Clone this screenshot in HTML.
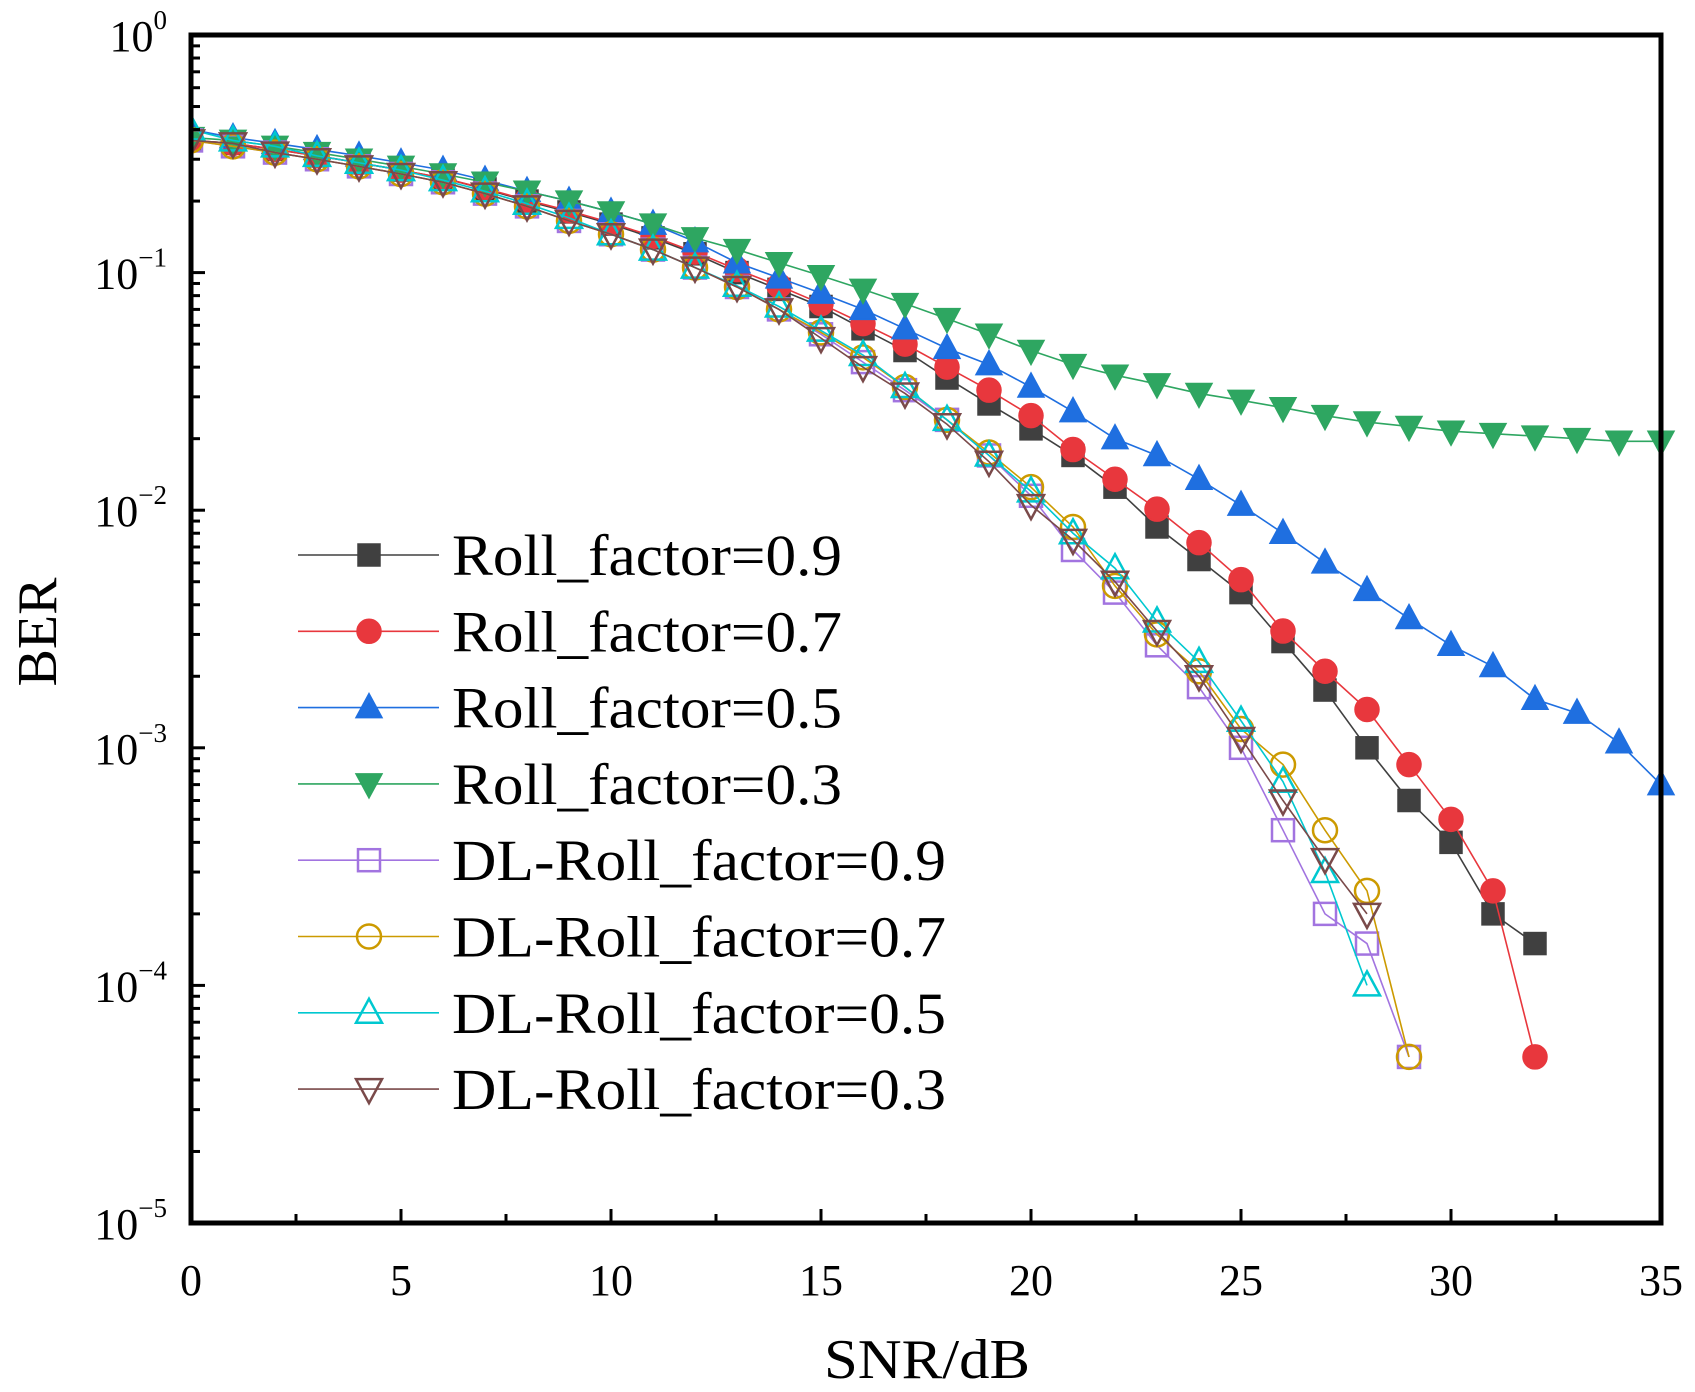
<!DOCTYPE html>
<html><head><meta charset="utf-8"><style>
html,body{margin:0;padding:0;background:#fff}
svg{display:block;font-family:"Liberation Serif",serif}
</style></head><body>
<svg id="chart" width="1695" height="1392" viewBox="0 0 1695 1392" xmlns="http://www.w3.org/2000/svg"></svg>
<script>
const seriesNames=["Roll_factor=0.9","Roll_factor=0.7","Roll_factor=0.5","Roll_factor=0.3","DL-Roll_factor=0.9","DL-Roll_factor=0.7","DL-Roll_factor=0.5","DL-Roll_factor=0.3"];
const roll09=[0.36,0.35,0.33,0.31,0.29,0.27,0.25,0.225,0.2,0.18,0.16,0.14,0.12,0.1,0.085,0.072,0.058,0.047,0.036,0.028,0.022,0.017,0.0125,0.0085,0.0062,0.0045,0.0028,0.00175,0.001,0.0006,0.0004,0.0002,0.00015];
const roll07=[0.36,0.35,0.33,0.31,0.29,0.27,0.25,0.226,0.202,0.182,0.162,0.142,0.122,0.103,0.088,0.074,0.061,0.05,0.04,0.032,0.025,0.018,0.0135,0.0101,0.0073,0.0051,0.0031,0.0021,0.00145,0.00085,0.0005,0.00025,0.00005];
const roll05=[0.4,0.37,0.35,0.33,0.31,0.29,0.27,0.245,0.22,0.2,0.18,0.16,0.135,0.11,0.095,0.082,0.07,0.058,0.048,0.041,0.033,0.026,0.02,0.017,0.0135,0.0105,0.008,0.006,0.0046,0.0035,0.0027,0.0022,0.0016,0.0014,0.00105,0.0007];
const roll03=[0.37,0.36,0.34,0.32,0.3,0.28,0.26,0.24,0.22,0.2,0.18,0.16,0.14,0.125,0.11,0.097,0.085,0.074,0.064,0.055,0.047,0.041,0.037,0.034,0.031,0.029,0.027,0.025,0.0235,0.0225,0.0215,0.021,0.0205,0.02,0.0195,0.0195];
const dl09=[0.36,0.34,0.32,0.3,0.28,0.26,0.24,0.215,0.19,0.165,0.145,0.125,0.105,0.087,0.07,0.055,0.042,0.032,0.024,0.017,0.0115,0.0068,0.0045,0.0027,0.0018,0.001,0.00045,0.0002,0.00015,0.00005];
const dl07=[0.36,0.34,0.32,0.3,0.28,0.26,0.24,0.215,0.19,0.165,0.145,0.125,0.105,0.087,0.07,0.056,0.044,0.033,0.024,0.0175,0.0125,0.0085,0.0048,0.003,0.0021,0.0012,0.00085,0.00045,0.00025,0.00005];
const dl05=[0.4,0.36,0.34,0.31,0.29,0.27,0.245,0.22,0.195,0.17,0.145,0.125,0.105,0.088,0.072,0.057,0.045,0.033,0.024,0.017,0.012,0.008,0.0057,0.0034,0.0023,0.0013,0.00072,0.0003,0.0001];
const dl03=[0.36,0.35,0.32,0.3,0.28,0.26,0.24,0.215,0.19,0.165,0.145,0.125,0.105,0.087,0.07,0.053,0.04,0.031,0.023,0.016,0.0105,0.0075,0.005,0.0031,0.002,0.0011,0.0006,0.00034,0.0002];
const xTicks=[0,5,10,15,20,25,30,35];
const yExps=[0,-1,-2,-3,-4,-5];

const NS="http://www.w3.org/2000/svg";
const svg=document.getElementById('chart');
const L=191,R=1661,T=35,B=1223;
const xs=v=>L+(v-0)/35*(R-L);
const ys=v=>T+(-Math.log10(v))/5*(B-T);
function mk(tag,attrs,parent){const e=document.createElementNS(NS,tag);for(const k in attrs)e.setAttribute(k,attrs[k]);(parent||svg).appendChild(e);return e;}

const colors=["#404040","#e8373d","#1f6fe0","#2ea661","#a274e0","#cc9a00","#00c8d0","#7a4a4a"];
const shapes=["square","circle","up","down","square","circle","up","down"];
const filled=[true,true,true,true,false,false,false,false];
const data=[roll09,roll07,roll05,roll03,dl09,dl07,dl05,dl03];

function marker(g,shape,cx,cy,c,f){
  const st=f?{fill:c,stroke:c,'stroke-width':1.5}:{fill:'#fff','fill-opacity':0,stroke:c,'stroke-width':2.5};
  const s=12;let e;
  if(shape==='square')e=mk('rect',Object.assign({x:cx-s+1,y:cy-s+1,width:2*s-2,height:2*s-2},st),g);
  else if(shape==='circle')e=mk('circle',Object.assign({cx:cx,cy:cy,r:s},st),g);
  else if(shape==='up')e=mk('polygon',Object.assign({points:`${cx},${cy-s-2} ${cx+s+1},${cy+s-2} ${cx-s-1},${cy+s-2}`},st),g);
  else e=mk('polygon',Object.assign({points:`${cx},${cy+s+2} ${cx+s+1},${cy-s+2} ${cx-s-1},${cy-s+2}`},st),g);
  return e;
}

const defs=mk('defs',{});
const cp=mk('clipPath',{id:'pc'},defs);mk('rect',{x:L,y:T-20,width:R-L+20,height:B-T+20},cp);

for(let s=0;s<data.length;s++){
  const g=mk('g',{'clip-path':'url(#pc)'});
  
  
  const pts=data[s].map((v,i)=>xs(i)+','+ys(v)).join(' ');
  const pl=mk('polyline',{points:pts,fill:'none',stroke:colors[s],'stroke-width':1.6},g);
  
  
  data[s].forEach((v,i)=>{const m=marker(g,shapes[s],xs(i),ys(v),colors[s],filled[s]);
    
    });
}

const fr=mk('rect',{x:L,y:T,width:R-L,height:B-T,fill:'none',stroke:'#000','stroke-width':5});



for(let v=0;v<=35;v+=2.5){
  const major=v%5===0;
  const t=mk('line',{x1:xs(v),x2:xs(v),y1:B,y2:B-(major?14:9),stroke:'#000','stroke-width':3});
  
  
}
xTicks.forEach(v=>{const t=mk('text',{x:xs(v),y:B+72,'text-anchor':'middle','font-size':44});t.textContent=v;
  
  });

yExps.forEach(e=>{
  const y=ys(Math.pow(10,e));
  const t=mk('line',{x1:L,x2:L+14,y1:y,y2:y,stroke:'#000','stroke-width':3});
  
  
  if(e>-5)for(let k=2;k<=9;k++){const ym=ys(k*Math.pow(10,e-1));
    const m=mk('line',{x1:L,x2:L+9,y1:ym,y2:ym,stroke:'#000','stroke-width':3});
    
    }
  const tx=mk('text',{x:L-24,y:y+16,'text-anchor':'end','font-size':44});
  
  
  const a=mk('tspan',{},tx);a.textContent='10';
  const b=mk('tspan',{dy:-22,'font-size':27},tx);b.textContent=(e===0?'0':'\u2212'+(-e));
});

const xt=mk('text',{x:927,y:1378,'text-anchor':'middle','font-size':56,textLength:206,lengthAdjust:'spacingAndGlyphs'});xt.textContent='SNR/dB';


const yt=mk('text',{x:0,y:0,'text-anchor':'middle','font-size':56,transform:'translate(56,632) rotate(-90)'});yt.textContent='BER';



const lg=mk('g',{});


seriesNames.forEach((n,i)=>{
  const y=555+i*76.3;
  const g=mk('g',{},lg);
  
  
  mk('line',{x1:298,x2:439,y1:y,y2:y,stroke:colors[i],'stroke-width':1.6},g);
  marker(g,shapes[i],369,y,colors[i],filled[i]);
  const t=mk('text',{x:452,y:y+20,'font-size':58,textLength:(i<4?390:494),lengthAdjust:'spacingAndGlyphs'},g);t.textContent=n;
});
</script>
</body></html>
